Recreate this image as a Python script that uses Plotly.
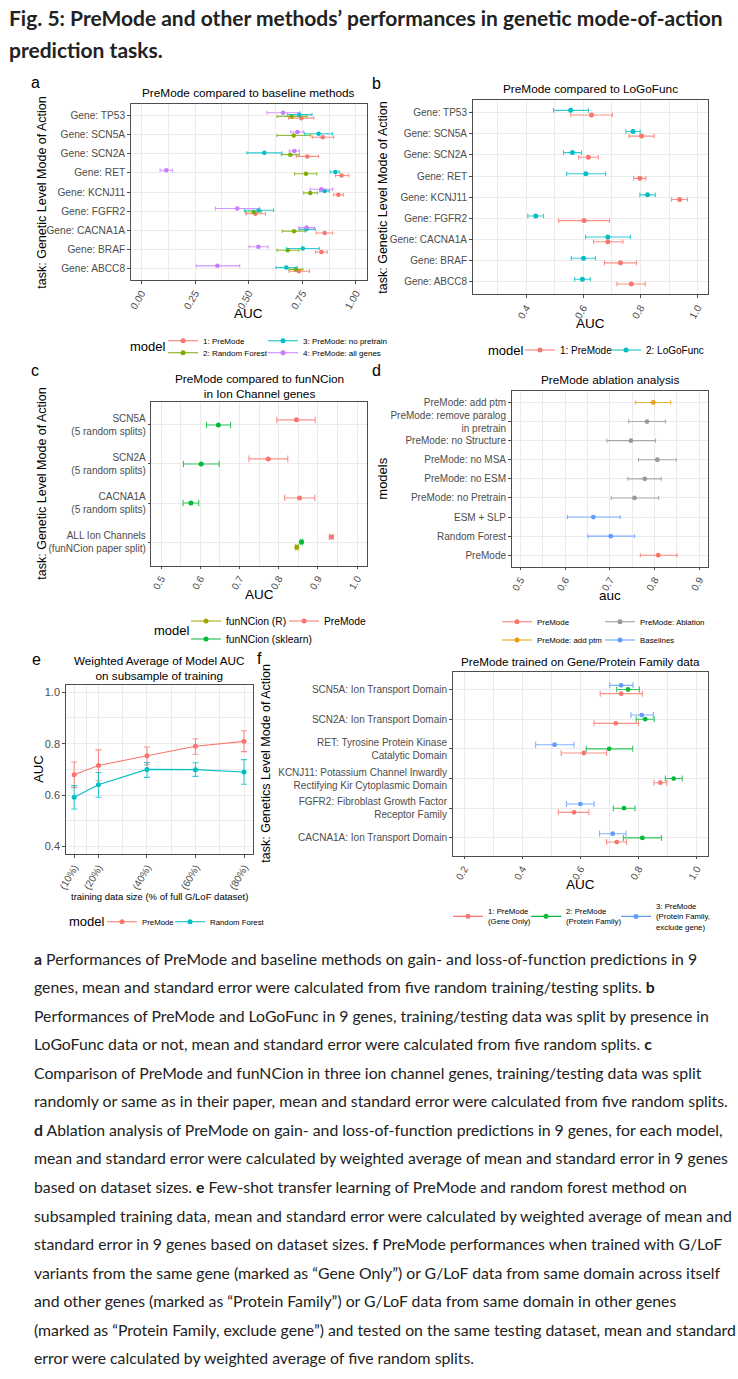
import plotly.graph_objects as go

W, H = 738, 1379
FONT = "Liberation Sans"
TXT = "Lato"

# ---------------- Panel a data ----------------
a_genes = ["Gene: TP53", "Gene: SCN5A", "Gene: SCN2A", "Gene: RET", "Gene: KCNJ11",
           "Gene: FGFR2", "Gene: CACNA1A", "Gene: BRAF", "Gene: ABCC8"]
a_models = ["1: PreMode", "2: Random Forest", "3: PreMode: no pretrain", "4: PreMode: all genes"]
a_premode_mean = [0.745, 0.845, 0.773, 0.933, 0.918, 0.531, 0.854, 0.839, 0.734]
a_premode_lo = [0.686, 0.797, 0.722, 0.905, 0.896, 0.488, 0.815, 0.811, 0.688]
a_premode_hi = [0.804, 0.896, 0.826, 0.966, 0.941, 0.578, 0.891, 0.866, 0.783]
a_rf_mean = [0.700, 0.710, 0.694, 0.767, 0.787, 0.523, 0.711, 0.682, 0.719]
a_rf_lo = [0.632, 0.632, 0.652, 0.714, 0.756, 0.484, 0.657, 0.632, 0.688]
a_rf_hi = [0.772, 0.789, 0.736, 0.817, 0.820, 0.559, 0.764, 0.734, 0.752]
a_nopre_mean = [0.736, 0.826, 0.573, 0.904, 0.854, 0.547, 0.769, 0.752, 0.675]
a_nopre_lo = [0.680, 0.761, 0.491, 0.880, 0.831, 0.480, 0.736, 0.677, 0.627]
a_nopre_hi = [0.795, 0.890, 0.655, 0.922, 0.876, 0.616, 0.810, 0.829, 0.727]
a_all_mean = [0.660, 0.727, 0.713, 0.116, 0.839, 0.447, 0.770, 0.545, 0.354]
a_all_lo = [0.585, 0.696, 0.689, 0.087, 0.786, 0.345, 0.733, 0.502, 0.256]
a_all_hi = [0.738, 0.756, 0.736, 0.144, 0.891, 0.550, 0.806, 0.590, 0.458]
a_xticks = [0.0, 0.25, 0.5, 0.75, 1.0]
a_xticktext = ["0.00", "0.25", "0.50", "0.75", "1.00"]

# ---------------- Panel b data ----------------
b_genes = a_genes
b_models = ["1: PreMode", "2: LoGoFunc"]
b_premode_mean = [0.629, 0.804, 0.618, 0.798, 0.937, 0.603, 0.686, 0.730, 0.768]
b_premode_lo = [0.556, 0.760, 0.584, 0.776, 0.909, 0.514, 0.636, 0.674, 0.718]
b_premode_hi = [0.702, 0.848, 0.653, 0.819, 0.965, 0.692, 0.739, 0.786, 0.817]
b_logo_mean = [0.556, 0.774, 0.562, 0.609, 0.825, 0.434, 0.686, 0.601, 0.597]
b_logo_lo = [0.496, 0.749, 0.531, 0.542, 0.798, 0.406, 0.608, 0.558, 0.570]
b_logo_hi = [0.618, 0.799, 0.594, 0.678, 0.852, 0.461, 0.765, 0.643, 0.625]
b_xticks = [0.4, 0.6, 0.8, 1.0]
b_xticktext = ["0.4", "0.6", "0.8", "1.0"]

# ---------------- Panel c data ----------------
c_tasks = ["SCN5A<br>(5 random splits)", "SCN2A<br>(5 random splits)",
           "CACNA1A<br>(5 random splits)", "ALL Ion Channels<br>(funNCion paper split)"]
c_models = ["funNCion (R)", "funNCion (sklearn)", "PreMode"]
c_premode_mean = [0.845, 0.773, 0.853, 0.934]
c_premode_lo = [0.795, 0.724, 0.815, 0.929]
c_premode_hi = [0.893, 0.823, 0.892, 0.939]
c_sk_mean = [0.646, 0.602, 0.576, 0.858]
c_sk_lo = [0.616, 0.557, 0.556, 0.855]
c_sk_hi = [0.677, 0.648, 0.596, 0.861]
c_r_mean = [None, None, None, 0.846]
c_r_lo = [None, None, None, 0.843]
c_r_hi = [None, None, None, 0.849]
c_xticks = [0.5, 0.6, 0.7, 0.8, 0.9, 1.0]
c_xticktext = ["0.5", "0.6", "0.7", "0.8", "0.9", "1.0"]

# ---------------- Panel d data ----------------
d_models = ["PreMode: add ptm", "PreMode: remove paralog<br>in pretrain", "PreMode: no Structure",
            "PreMode: no MSA", "PreMode: no ESM", "PreMode: no Pretrain", "ESM + SLP",
            "Random Forest", "PreMode"]
d_group = ["PreMode: add ptm", "PreMode: Ablation", "PreMode: Ablation", "PreMode: Ablation",
           "PreMode: Ablation", "PreMode: Ablation", "Baselines", "Baselines", "PreMode"]
d_mean = [0.797, 0.783, 0.747, 0.806, 0.778, 0.755, 0.663, 0.702, 0.808]
d_lo = [0.757, 0.742, 0.693, 0.764, 0.740, 0.703, 0.605, 0.651, 0.768]
d_hi = [0.836, 0.824, 0.802, 0.848, 0.815, 0.809, 0.723, 0.755, 0.850]
d_xticks = [0.5, 0.6, 0.7, 0.8, 0.9]
d_xticktext = ["0.5", "0.6", "0.7", "0.8", "0.9"]

# ---------------- Panel e data ----------------
e_size = [10, 20, 40, 60, 80]
e_sizetext = ["(10%)", "(20%)", "(40%)", "(60%)", "(80%)"]
e_premode_mean = [0.679, 0.715, 0.753, 0.790, 0.809]
e_premode_lo = [0.629, 0.656, 0.718, 0.759, 0.769]
e_premode_hi = [0.729, 0.776, 0.787, 0.819, 0.850]
e_rf_mean = [0.592, 0.640, 0.700, 0.699, 0.690]
e_rf_lo = [0.546, 0.592, 0.669, 0.673, 0.642]
e_rf_hi = [0.637, 0.688, 0.727, 0.726, 0.738]
e_yticks = [0.4, 0.6, 0.8, 1.0]
e_yticktext = ["0.4", "0.6", "0.8", "1.0"]

# ---------------- Panel f data ----------------
f_tasks = ["SCN5A: Ion Transport Domain", "SCN2A: Ion Transport Domain",
           "RET: Tyrosine Protein Kinase<br>Catalytic Domain",
           "KCNJ11: Potassium Channel Inwardly<br>Rectifying Kir Cytoplasmic Domain",
           "FGFR2: Fibroblast Growth Factor<br>Receptor Family", "CACNA1A: Ion Transport Domain"]
f_models = ["1: PreMode<br>(Gene Only)", "2: PreMode<br>(Protein Family)",
            "3: PreMode<br>(Protein Family,<br>exclude gene)"]
f_gene_mean = [0.740, 0.722, 0.612, 0.875, 0.578, 0.725]
f_gene_lo = [0.668, 0.647, 0.534, 0.853, 0.524, 0.690]
f_gene_hi = [0.813, 0.800, 0.690, 0.897, 0.629, 0.759]
f_fam_mean = [0.764, 0.823, 0.699, 0.921, 0.750, 0.813]
f_fam_lo = [0.725, 0.792, 0.620, 0.892, 0.713, 0.748]
f_fam_hi = [0.803, 0.854, 0.780, 0.950, 0.788, 0.879]
f_exc_mean = [0.740, 0.811, 0.511, None, 0.600, 0.711]
f_exc_lo = [0.701, 0.774, 0.446, None, 0.552, 0.666]
f_exc_hi = [0.781, 0.851, 0.578, None, 0.647, 0.757]
f_xticks = [0.2, 0.4, 0.6, 0.8, 1.0]
f_xticktext = ["0.2", "0.4", "0.6", "0.8", "1.0"]

# ---------------- Text ----------------
fig_title = ["Fig. 5: PreMode and other methods’ performances in genetic mode-of-action",
             "prediction tasks."]
caption_lines = [
    "<b>a</b> Performances of PreMode and baseline methods on gain- and loss-of-function predictions in 9",
    "genes, mean and standard error were calculated from five random training/testing splits. <b>b</b>",
    "Performances of PreMode and LoGoFunc in 9 genes, training/testing data was split by presence in",
    "LoGoFunc data or not, mean and standard error were calculated from five random splits. <b>c</b>",
    "Comparison of PreMode and funNCion in three ion channel genes, training/testing data was split",
    "randomly or same as in their paper, mean and standard error were calculated from five random splits.",
    "<b>d</b> Ablation analysis of PreMode on gain- and loss-of-function predictions in 9 genes, for each model,",
    "mean and standard error were calculated by weighted average of mean and standard error in 9 genes",
    "based on dataset sizes. <b>e</b> Few-shot transfer learning of PreMode and random forest method on",
    "subsampled training data, mean and standard error were calculated by weighted average of mean and",
    "standard error in 9 genes based on dataset sizes. <b>f</b> PreMode performances when trained with G/LoF",
    "variants from the same gene (marked as “Gene Only”) or G/LoF data from same domain across itself",
    "and other genes (marked as “Protein Family”) or G/LoF data from same domain in other genes",
    "(marked as “Protein Family, exclude gene”) and tested on the same testing dataset, mean and standard",
    "error were calculated by weighted average of five random splits.",
]

# ---------------- Styling ----------------
RED = "#F8766D"
OLIVEG = "#7CAE00"
CYAN = "#00BFC4"
PURPLE = "#C77CFF"
OLIVE = "#A3A500"
GREEN = "#00BA38"
BLUE = "#619CFF"
GOLD = "#E69F00"
GRAY = "#999999"
GRID = "#EBEBEB"
FRAME = "#4D4D4D"
TICKC = "#4D4D4D"

def rgba(hexc, a):
    h = hexc.lstrip("#")
    return "rgba(%d,%d,%d,%.2f)" % (int(h[0:2], 16), int(h[2:4], 16), int(h[4:6], 16), a)

fig = go.Figure()

# panel boxes in pixels: x0, x1, y0(top), y1(bottom)
BOX = {
    1: (130.7, 366.7, 104.0, 280.0),
    2: (472.5, 708.3, 100.0, 294.3),
    3: (151.3, 367.0, 401.5, 565.5),
    4: (511.5, 708.3, 391.0, 566.7),
    5: (65.7, 252.5, 684.5, 854.3),
    6: (452.5, 708.3, 671.7, 855.7),
}

def sfx(n):
    return "" if n == 1 else str(n)

def set_axes(n, xr, yr, xt, xtt, xminor, yt, ytt, yminor=None, ytsize=10, xtsize=10):
    x0, x1, y0, y1 = BOX[n]
    s = sfx(n)
    common = dict(showgrid=True, gridcolor=GRID, gridwidth=1, zeroline=False, showline=True,
                  mirror=True, linecolor=FRAME, linewidth=1, ticks="outside", ticklen=2.5,
                  tickcolor=FRAME, tickwidth=1, fixedrange=True, tickmode="array",
                  automargin=False)
    xa = dict(common, domain=[x0 / W, x1 / W], anchor="y" + s, range=xr, tickvals=xt,
              ticktext=xtt, tickangle=-60, tickfont=dict(family=FONT, size=xtsize, color=TICKC))
    if xminor:
        xa["minor"] = dict(tickmode="array", tickvals=xminor, showgrid=True, gridcolor=GRID,
                           gridwidth=0.5, ticks="")
    ya = dict(common, domain=[1 - y1 / H, 1 - y0 / H], anchor="x" + s, range=yr, tickvals=yt,
              ticktext=ytt, tickfont=dict(family=FONT, size=ytsize, color=TICKC))
    if yminor:
        ya["minor"] = dict(tickmode="array", tickvals=yminor, showgrid=True, gridcolor=GRID,
                           gridwidth=0.5, ticks="")
    fig.update_layout(**{"xaxis" + s: xa, "yaxis" + s: ya})

def add_h(n, cats, mean, lo, hi, offset, color, capw, msize):
    s = sfx(n)
    xs, ys, ep, em = [], [], [], []
    k = len(cats)
    for i, (m, l, h) in enumerate(zip(mean, lo, hi)):
        if m is None:
            continue
        xs.append(m)
        ys.append(k - i + offset)
        ep.append(h - m)
        em.append(m - l)
    fig.add_trace(go.Scatter(
        x=xs, y=ys, mode="markers", xaxis="x" + s, yaxis="y" + s, showlegend=False,
        hoverinfo="skip", marker=dict(color=color, size=msize),
        error_x=dict(type="data", symmetric=False, array=ep, arrayminus=em,
                     color=rgba(color, 0.8), thickness=1.1, width=capw)))

leg_count = [0]

def add_key(n, name, color, text_x, row_y, size):
    leg_count[0] += 1
    lid = "legend" if leg_count[0] == 1 else "legend%d" % leg_count[0]
    s = sfx(n)
    fig.add_trace(go.Scatter(
        x=[None], y=[None], mode="lines+markers", name=name, xaxis="x" + s, yaxis="y" + s,
        line=dict(color=color, width=1.1), marker=dict(color=color, size=5),
        legend=lid, showlegend=True))
    fig.update_layout(**{lid: dict(
        x=(text_x - 40) / W, y=1 - row_y / H, xanchor="left", yanchor="middle",
        orientation="h", bgcolor="rgba(0,0,0,0)", borderwidth=0, itemwidth=30,
        font=dict(family=FONT, size=size, color="black"), valign="middle",
        itemclick=False, itemdoubleclick=False)})

# ---------------- Panel a ----------------
na = len(a_genes)
set_axes(1, [-0.05, 1.05], [0.4, na + 0.6], a_xticks, a_xticktext,
         [0.125, 0.375, 0.625, 0.875], [na - i for i in range(na)], a_genes, ytsize=10.2, xtsize=10.2)
add_h(1, a_genes, a_premode_mean, a_premode_lo, a_premode_hi, -0.14, RED, 1.7, 4.5)
add_h(1, a_genes, a_rf_mean, a_rf_lo, a_rf_hi, -0.047, OLIVEG, 1.7, 4.5)
add_h(1, a_genes, a_nopre_mean, a_nopre_lo, a_nopre_hi, 0.047, CYAN, 1.7, 4.5)
add_h(1, a_genes, a_all_mean, a_all_lo, a_all_hi, 0.14, PURPLE, 1.7, 4.5)
add_key(1, a_models[0], RED, 203, 340.7, 8)
add_key(1, a_models[1], OLIVEG, 203, 352.7, 8)
add_key(1, a_models[2], CYAN, 303, 340.7, 8)
add_key(1, a_models[3], PURPLE, 303, 352.7, 8)

# ---------------- Panel b ----------------
nb = len(b_genes)
set_axes(2, [0.2125, 1.0375], [0.4, nb + 0.6], b_xticks, b_xticktext, [0.3, 0.5, 0.7, 0.9],
         [nb - i for i in range(nb)], b_genes, ytsize=10.0, xtsize=10.2)
add_h(2, b_genes, b_premode_mean, b_premode_lo, b_premode_hi, -0.11, RED, 2.3, 5)
add_h(2, b_genes, b_logo_mean, b_logo_lo, b_logo_hi, 0.11, CYAN, 2.3, 5)
add_key(2, b_models[0], RED, 560, 350, 10)
add_key(2, b_models[1], CYAN, 646, 350, 10)

# ---------------- Panel c ----------------
nc = len(c_tasks)
set_axes(3, [0.475, 1.025], [0.4, nc + 0.6], c_xticks, c_xticktext,
         [0.55, 0.65, 0.75, 0.85, 0.95], [nc - i for i in range(nc)], c_tasks)
add_h(3, c_tasks, c_premode_mean, c_premode_lo, c_premode_hi, 0.13, RED, 3.3, 5)
add_h(3, c_tasks, c_sk_mean, c_sk_lo, c_sk_hi, 0.0, GREEN, 3.3, 5)
add_h(3, c_tasks, c_r_mean, c_r_lo, c_r_hi, -0.13, OLIVE, 3.3, 5)
add_key(3, c_models[0], OLIVE, 226, 621, 10.3)
add_key(3, c_models[1], GREEN, 226, 639, 10.3)
add_key(3, c_models[2], RED, 324, 621, 10.3)

# ---------------- Panel d ----------------
nd = len(d_models)
set_axes(4, [0.48, 0.92], [0.4, nd + 0.6], d_xticks, d_xticktext, [0.55, 0.65, 0.75, 0.85],
         [nd - i for i in range(nd)], d_models)
d_colors = {"PreMode": RED, "PreMode: Ablation": GRAY, "PreMode: add ptm": GOLD, "Baselines": BLUE}
for g in ["PreMode", "PreMode: Ablation", "PreMode: add ptm", "Baselines"]:
    mm = [m if gg == g else None for m, gg in zip(d_mean, d_group)]
    add_h(4, d_models, mm, d_lo, d_hi, 0.0, d_colors[g], 2.0, 4.8)
add_key(4, "PreMode", RED, 537, 621.7, 7.9)
add_key(4, "PreMode: Ablation", GRAY, 640, 621.7, 7.9)
add_key(4, "PreMode: add ptm", GOLD, 537, 640, 7.9)
add_key(4, "Baselines", BLUE, 640, 640, 7.9)

# ---------------- Panel e ----------------
set_axes(5, [6.5, 83.5], [0.37, 1.03], e_size, e_sizetext, [15, 30, 50, 70],
         e_yticks, e_yticktext, yminor=[0.5, 0.7, 0.9], ytsize=11)
for mean, lo, hi, col in [(e_premode_mean, e_premode_lo, e_premode_hi, RED),
                          (e_rf_mean, e_rf_lo, e_rf_hi, CYAN)]:
    fig.add_trace(go.Scatter(
        x=e_size, y=mean, mode="lines+markers", xaxis="x5", yaxis="y5", showlegend=False,
        hoverinfo="skip", line=dict(color=col, width=1.1), marker=dict(color=col, size=5),
        error_y=dict(type="data", symmetric=False, array=[h - m for h, m in zip(hi, mean)],
                     arrayminus=[m - l for m, l in zip(mean, lo)], color=rgba(col, 0.8),
                     thickness=1.1, width=3)))
add_key(5, "PreMode", RED, 142, 921.7, 7.8)
add_key(5, "Random Forest", CYAN, 210, 921.7, 7.8)

# ---------------- Panel f ----------------
nf = len(f_tasks)
set_axes(6, [0.16, 1.04], [0.4, nf + 0.6], f_xticks, f_xticktext, [0.3, 0.5, 0.7, 0.9],
         [nf - i for i in range(nf)], f_tasks)
add_h(6, f_tasks, f_gene_mean, f_gene_lo, f_gene_hi, -0.14, RED, 3.0, 4.8)
add_h(6, f_tasks, f_fam_mean, f_fam_lo, f_fam_hi, 0.0, GREEN, 3.0, 4.8)
add_h(6, f_tasks, f_exc_mean, f_exc_lo, f_exc_hi, 0.14, BLUE, 3.0, 4.8)
add_key(6, f_models[0], RED, 488, 916.7, 7.8)
add_key(6, f_models[1], GREEN, 566, 916.7, 7.8)
add_key(6, f_models[2], BLUE, 656, 916.7, 7.8)

# ---------------- Annotations ----------------
ann = []

def txt(x, y, text, size, color="black", xanchor="center", angle=0, family=FONT, yanchor="middle"):
    ann.append(dict(x=x / W, y=1 - y / H, xref="paper", yref="paper", text=text, showarrow=False,
                    xanchor=xanchor, yanchor=yanchor, textangle=angle, borderpad=0,
                    font=dict(family=family, size=size, color=color)))

# panel letters
for letter, x, y in [("a", 35, 82), ("b", 376, 83), ("c", 35, 370), ("d", 377, 370),
                     ("e", 36, 659), ("f", 259, 658)]:
    txt(x, y, letter, 16)

# panel titles
txt(248.7, 93.3, "PreMode compared to baseline methods", 11.8)
txt(590, 89, "PreMode compared to LoGoFunc", 11.8)
txt(259, 386, "PreMode compared to funNCion<br>in Ion Channel genes", 11.8)
txt(610, 380, "PreMode ablation analysis", 11.8)
txt(159, 667.7, "Weighted Average of Model AUC<br>on subsample of training", 11.7)
txt(580.5, 661, "PreMode trained on Gene/Protein Family data", 11.7)

# axis titles
txt(41.7, 192, "task: Genetic Level Mode of Action", 12.5, angle=-90)
txt(248.7, 314, "AUC", 13.5)
txt(382.7, 197, "task: Genetic Level Mode of Action", 12.5, angle=-90)
txt(590, 323, "AUC", 13.5)
txt(41.7, 483, "task: Genetic Level Mode of Action", 12.5, angle=-90)
txt(259, 594.3, "AUC", 13.5)
txt(381.7, 479, "models", 13, angle=-90)
txt(610, 595, "auc", 13.5)
txt(38.3, 769.5, "AUC", 13, angle=-90)
txt(159, 896.7, "training data size (% of full G/LoF dataset)", 9.5)
txt(266, 763.7, "task: Genetics Level Mode of Action", 12.5, angle=-90)
txt(580.5, 884, "AUC", 13.5)

# legend titles
txt(129, 346.7, "model", 13, xanchor="left")
txt(487, 350, "model", 13, xanchor="left")
txt(153, 630, "model", 13, xanchor="left")
txt(68, 921.7, "model", 13, xanchor="left")

# figure title
for i, line in enumerate(fig_title):
    txt(8, 18 + 32 * i, "<b>" + line + "</b>", 21.0, color="#222222", xanchor="left", family=TXT)

# caption
for i, line in enumerate(caption_lines):
    txt(33, 958 + 28.57 * i, line, 15.8, color="#222222", xanchor="left", family=TXT)

fig.update_layout(
    width=W, height=H, margin=dict(l=0, r=0, t=0, b=0, pad=0, autoexpand=False),
    paper_bgcolor="white", plot_bgcolor="white", annotations=ann,
    font=dict(family=FONT, color="black"), hovermode=False)

fig.write_html("out.html", config={"displayModeBar": False},
               post_script="document.documentElement.style.margin='0';document.body.style.margin='0';document.body.style.padding='0';")
